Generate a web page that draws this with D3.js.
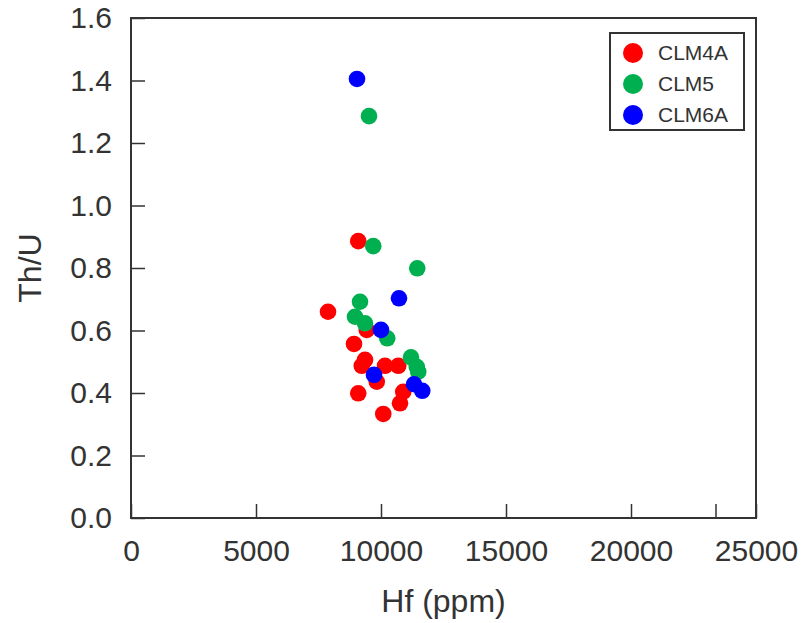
<!DOCTYPE html>
<html>
<head>
<meta charset="utf-8">
<script src="https://cdn.jsdelivr.net/npm/d3@7"></script>
<style>
    body { margin: 0; background: #fff; }
    svg { font-family: "Liberation Sans", Arial, sans-serif; }
</style>
</head>
<body>
<svg id="chart" width="804" height="623"></svg>
<script>
// Hf (ppm) and Th/U per sample group
const clm4aHf = [9090, 7880, 9430, 8920, 9360, 9230, 10160, 10690, 9830, 10890, 10760, 9090, 10090];
const clm4aThU = [0.886, 0.660, 0.602, 0.557, 0.506, 0.487, 0.487, 0.487, 0.436, 0.404, 0.367, 0.399, 0.333];

const clm5Hf = [9520, 9690, 11450, 9160, 8960, 9360, 10250, 11200, 11430, 11490];
const clm5ThU = [1.286, 0.870, 0.799, 0.692, 0.644, 0.623, 0.575, 0.514, 0.484, 0.468];

const clm6aHf = [9040, 10720, 10000, 9720, 11320, 11650];
const clm6aThU = [1.405, 0.703, 0.602, 0.458, 0.428, 0.407];

const seriesNames = ["CLM4A", "CLM5", "CLM6A"];
const seriesColors = ["#ff0000", "#00b050", "#0000ff"];

const xTicks = [0, 5000, 10000, 15000, 20000, 25000];
const xExtraTick = 23400; // unlabelled tick near the right edge
const yTicks = [0, 0.2, 0.4, 0.6, 0.8, 1.0, 1.2, 1.4, 1.6];

const series = [
    { name: seriesNames[0], color: seriesColors[0], hf: clm4aHf, thu: clm4aThU },
    { name: seriesNames[1], color: seriesColors[1], hf: clm5Hf, thu: clm5ThU },
    { name: seriesNames[2], color: seriesColors[2], hf: clm6aHf, thu: clm6aThU }
];

const margin = { top: 18, right: 48, bottom: 105, left: 131 };
const width = 804 - margin.left - margin.right;
const height = 623 - margin.top - margin.bottom;

const svg = d3.select("#chart")
    .append("g")
    .attr("transform", "translate(" + margin.left + "," + margin.top + ")");

const xScale = d3.scaleLinear().domain([0, 25000]).range([0, width]);
const yScale = d3.scaleLinear().domain([0, 1.6]).range([height, 0]);

// x axis, ticks pointing inward
const xAxis = svg.append("g")
    .attr("transform", "translate(0," + height + ")")
    .call(d3.axisBottom(xScale)
        .tickValues(xTicks)
        .tickFormat(d3.format("d"))
        .tickSizeInner(-14)
        .tickSizeOuter(0)
        .tickPadding(22));

xAxis.append("line")
    .attr("class", "extra-tick")
    .attr("x1", xScale(xExtraTick))
    .attr("x2", xScale(xExtraTick))
    .attr("y1", 0)
    .attr("y2", -14);

// y axis
const yAxis = svg.append("g")
    .call(d3.axisLeft(yScale)
        .tickValues(yTicks)
        .tickFormat(d3.format(".1f"))
        .tickSizeInner(-14)
        .tickSizeOuter(0)
        .tickPadding(19));

svg.selectAll(".domain").remove();
svg.selectAll(".tick line, .extra-tick").attr("stroke", "#333").attr("stroke-width", 1.5);
svg.selectAll(".tick text")
    .attr("fill", "#333")
    .attr("font-size", "30px");

// frame round the plot
svg.append("rect")
    .attr("x", 0)
    .attr("y", 0)
    .attr("width", width)
    .attr("height", height)
    .attr("fill", "none")
    .attr("stroke", "#333")
    .attr("stroke-width", 2);

// axis titles
svg.append("text")
    .attr("x", width / 2)
    .attr("y", height + 83)
    .attr("dy", "0.35em")
    .attr("text-anchor", "middle")
    .attr("fill", "#333")
    .attr("font-size", "32px")
    .text("Hf (ppm)");

svg.append("text")
    .attr("transform", "rotate(-90)")
    .attr("x", -height / 2)
    .attr("y", -101)
    .attr("dy", "0.35em")
    .attr("text-anchor", "middle")
    .attr("fill", "#333")
    .attr("font-size", "32px")
    .text("Th/U");

// points
series.forEach(function(s) {
    svg.append("g")
        .selectAll("circle")
        .data(s.hf.map((h, i) => ({ x: h, y: s.thu[i] })))
        .enter().append("circle")
        .attr("cx", d => xScale(d.x))
        .attr("cy", d => yScale(d.y))
        .attr("r", 8.3)
        .style("fill", s.color);
});

// legend
const legend = svg.append("g")
    .attr("transform", "translate(" + (610 - margin.left) + "," + (33 - margin.top) + ")");

legend.append("rect")
    .attr("width", 134)
    .attr("height", 97)
    .attr("fill", "#fff")
    .attr("stroke", "#333")
    .attr("stroke-width", 2);

series.forEach(function(s, i) {
    const row = legend.append("g")
        .attr("transform", "translate(0," + (20 + i * 31) + ")");
    row.append("circle")
        .attr("cx", 23)
        .attr("cy", 0)
        .attr("r", 10)
        .style("fill", s.color);
    row.append("text")
        .attr("x", 48)
        .attr("y", 0)
        .attr("dy", "0.35em")
        .attr("fill", "#333")
        .attr("font-size", "21px")
        .text(s.name);
});
</script>
</body>
</html>
